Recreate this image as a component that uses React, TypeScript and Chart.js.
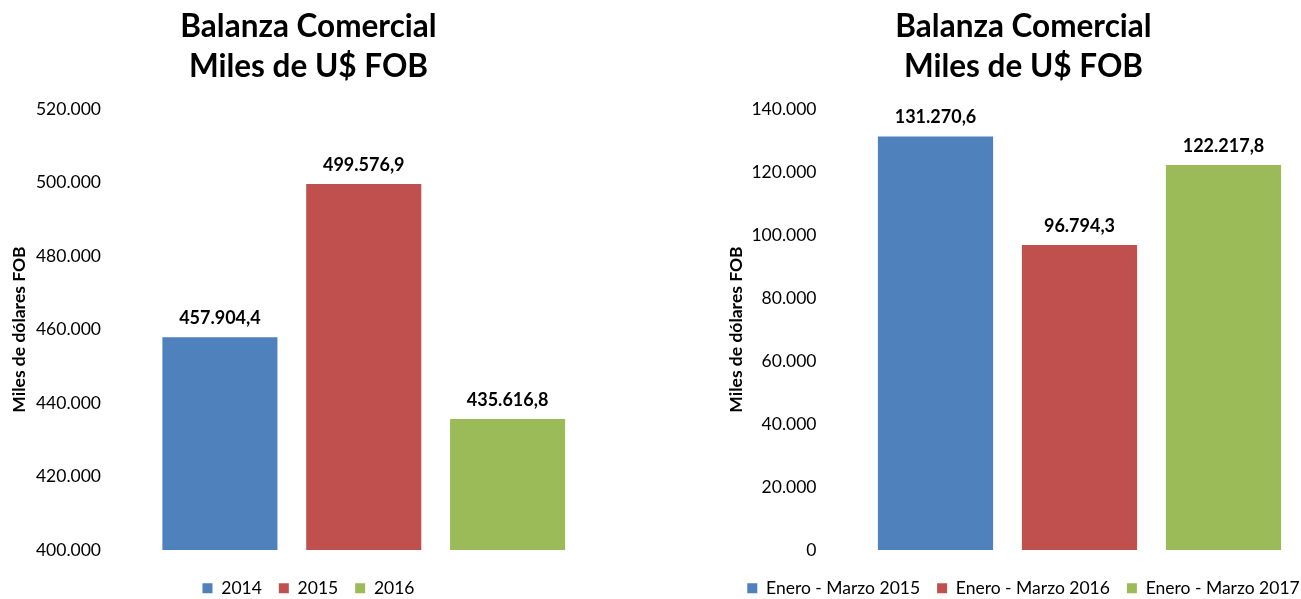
import React, { useEffect, useRef } from 'react';
import { Chart, registerables } from 'chart.js';

Chart.register(...registerables);

const titleLines = ['Balanza Comercial', 'Miles de U$ FOB'];
const yAxisTitle = 'Miles de dólares FOB';
const barColors = ['#4F81BD', '#C0504D', '#9BBB59'];

const leftCategories = ['2014', '2015', '2016'];
const leftValues = [457904.4, 499576.9, 435616.8];
const leftTicks = [400000, 420000, 440000, 460000, 480000, 500000, 520000];

const rightCategories = ['Enero - Marzo 2015', 'Enero - Marzo 2016', 'Enero - Marzo 2017'];
const rightValues = [131270.6, 96794.3, 122217.8];
const rightTicks = [0, 20000, 40000, 60000, 80000, 100000, 120000, 140000];

const FONT = 'Lato';
const CANVAS_H = 607;

function groupThousands(s: string): string {
  return s.replace(/\B(?=(\d{3})+(?!\d))/g, '.');
}
function fmtInt(v: number): string {
  return groupThousands(Math.round(v).toString());
}
function fmtDec(v: number): string {
  const [i, d] = v.toFixed(1).split('.');
  return groupThousands(i) + ',' + d;
}

const labelPlugin = {
  id: 'barLabels',
  afterDatasetsDraw(chart: any) {
    const ctx = chart.ctx;
    ctx.save();
    ctx.font = `bold 18px ${FONT}`;
    ctx.fillStyle = '#000';
    ctx.textAlign = 'center';
    ctx.textBaseline = 'middle';
    chart.data.datasets.forEach((ds: any, di: number) => {
      const meta = chart.getDatasetMeta(di);
      meta.data.forEach((bar: any, i: number) => {
        ctx.fillText(fmtDec(ds.data[i]), bar.x, bar.y - 19);
      });
    });
    ctx.restore();
  },
};

type PanelProps = {
  left: number;
  width: number;
  categories: string[];
  values: number[];
  ticks: number[];
  padLeft: number;
  axisWidth: number;
  rightGap: number;
};

function Panel(p: PanelProps) {
  const ref = useRef<HTMLCanvasElement>(null);
  useEffect(() => {
    const min = p.ticks[0];
    const max = p.ticks[p.ticks.length - 1];
    const step = p.ticks[1] - p.ticks[0];
    const chart = new Chart(ref.current!, {
      type: 'bar',
      data: {
        labels: p.categories,
        datasets: [
          {
            data: p.values,
            backgroundColor: barColors,
            borderWidth: 0,
            categoryPercentage: 0.8,
            barPercentage: 1,
          },
        ],
      },
      options: {
        animation: false,
        responsive: false,
        maintainAspectRatio: false,
        layout: { padding: { left: p.padLeft, right: 0, top: 0, bottom: 0 } },
        plugins: {
          tooltip: { enabled: false },
          title: {
            display: true,
            text: titleLines,
            color: '#000',
            font: { family: FONT, size: 31.5, weight: 'bold', lineHeight: 1.27 },
            padding: { top: 6.5, bottom: 22.5 },
          },
          legend: {
            display: true,
            position: 'bottom',
            labels: {
              color: '#000',
              font: { family: FONT, size: 17.5 },
              boxWidth: 10,
              boxHeight: 10,
              padding: 17,
              generateLabels: (chart: any) =>
                chart.data.labels.map((l: string, i: number) => ({
                  text: l,
                  fillStyle: barColors[i],
                  strokeStyle: barColors[i],
                  lineWidth: 0,
                  hidden: false,
                  index: i,
                  fontColor: '#000',
                })),
            },
          },
        },
        scales: {
          x: {
            display: true,
            grid: { display: false },
            border: { display: false },
            ticks: { display: false },
            afterFit: (scale: any) => {
              scale.height = 12.5;
            },
          },
          y: {
            min,
            max,
            grid: { display: false },
            border: { display: false },
            afterFit: (scale: any) => {
              scale.width = p.axisWidth;
            },
            afterBuildTicks: (scale: any) => {
              scale.ticks = p.ticks.map((v) => ({ value: v }));
            },
            ticks: {
              stepSize: step,
              padding: 39,
              color: '#000',
              font: { family: FONT, size: 17.5 },
              callback: (v: any) => fmtInt(Number(v)),
            },
            title: {
              display: true,
              text: yAxisTitle,
              color: '#000',
              font: { family: FONT, size: 17.5, weight: 'bold' },
              padding: { top: 1, bottom: 0 },
            },
          },
          yGap: {
            type: 'linear',
            position: 'right',
            display: true,
            grid: { display: false },
            border: { display: false },
            ticks: { display: false },
            afterFit: (scale: any) => {
              scale.width = p.rightGap;
            },
          },
        },
      },
      plugins: [labelPlugin],
    });
    return () => chart.destroy();
  }, []);
  return (
    <canvas
      ref={ref}
      width={p.width}
      height={CANVAS_H}
      style={{ position: 'absolute', left: p.left, top: 0, width: p.width, height: CANVAS_H }}
    />
  );
}

export default function App() {
  return (
    <div
      style={{
        position: 'fixed',
        left: 0,
        top: 0,
        width: 1301,
        height: 599,
        overflow: 'hidden',
        background: '#fff',
      }}
    >
      <Panel
        left={0}
        width={609}
        categories={leftCategories}
        values={leftValues}
        ticks={leftTicks}
        padLeft={8}
        axisWidth={140}
        rightGap={29.5}
      />
      <Panel
        left={722}
        width={600}
        categories={rightCategories}
        values={rightValues}
        ticks={rightTicks}
        padLeft={3}
        axisWidth={138.5}
        rightGap={26.5}
      />
    </div>
  );
}
